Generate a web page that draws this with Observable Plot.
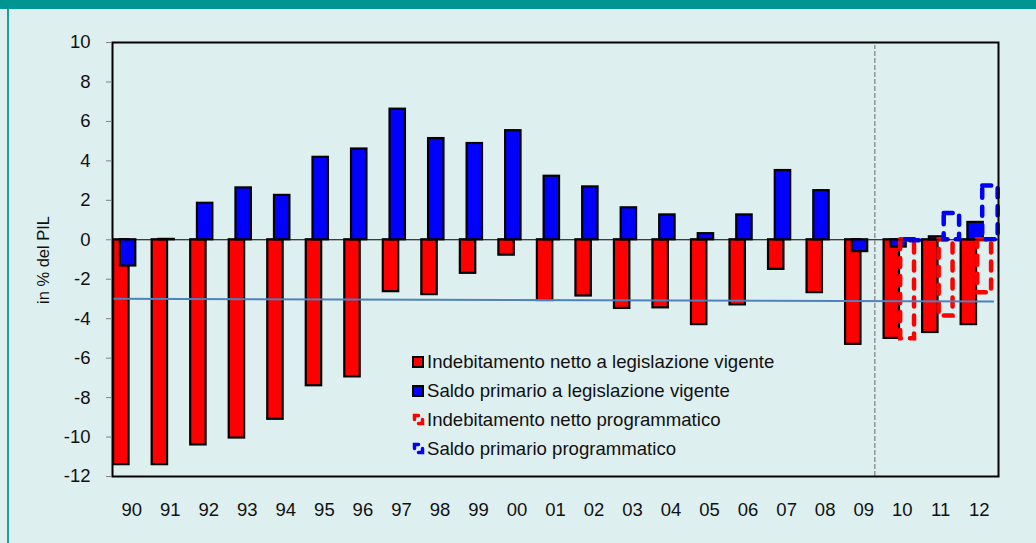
<!DOCTYPE html>
<html><head><meta charset="utf-8">
<script src="https://cdn.jsdelivr.net/npm/d3@7"></script>
<script src="https://cdn.jsdelivr.net/npm/@observablehq/plot@0.6"></script>
<style>
html,body{margin:0;padding:0;background:#DEEFEF;}
#wrap{position:relative;width:1036px;height:543px;overflow:hidden;background:#DEEFEF;font-family:"Liberation Sans",Arial,sans-serif;}
#topbar{position:absolute;left:0;top:0;width:1036px;height:9px;background:#009590;z-index:2;}
#leftbar{position:absolute;left:7px;top:9px;width:2px;height:534px;background:#1E9F99;z-index:2;}
#chart{position:absolute;left:0;top:0;}
#ytitle{position:absolute;left:43px;top:260px;transform:translate(-50%,-50%) rotate(-90deg);font-size:16.5px;color:#111;white-space:nowrap;}
#legend{position:absolute;left:412px;top:347px;font-size:18.6px;color:#111;}
.row{display:flex;align-items:center;height:29px;white-space:nowrap;}
.sw{width:8px;height:8px;border:2px solid #000;margin-right:3px;flex:none;}
.sv{margin-right:2px;flex:none;}
</style></head>
<body>
<div id="wrap">
  <div id="topbar"></div>
  <div id="leftbar"></div>
  <div id="chart"></div>
  <div id="ytitle">in % del PIL</div>
  <div id="legend"></div>
</div>
<script>
// ---- data ----
const years = [1990,1991,1992,1993,1994,1995,1996,1997,1998,1999,2000,2001,2002,2003,2004,2005,2006,2007,2008,2009,2010,2011,2012];
const tickLabels = ["90","91","92","93","94","95","96","97","98","99","00","01","02","03","04","05","06","07","08","09","10","11","12"];
const indebitamentoVigente = [-11.4,-11.4,-10.4,-10.05,-9.1,-7.4,-6.95,-2.63,-2.78,-1.7,-0.78,-3.08,-2.85,-3.48,-3.45,-4.3,-3.3,-1.5,-2.68,-5.3,-5.0,-4.7,-4.3];
const saldoVigente = [-1.33,0.02,1.85,2.63,2.25,4.18,4.6,6.62,5.13,4.88,5.53,3.22,2.68,1.62,1.26,0.31,1.26,3.51,2.49,-0.6,-0.37,0.15,0.88];
const indebitamentoProgrammatico = [null,null,null,null,null,null,null,null,null,null,null,null,null,null,null,null,null,null,null,null,-5.02,-3.87,-2.68];
const saldoProgrammatico = [null,null,null,null,null,null,null,null,null,null,null,null,null,null,null,null,null,null,null,null,-0.05,1.33,2.72];
const seriesNames = ["Indebitamento netto a legislazione vigente","Saldo primario a legislazione vigente","Indebitamento netto programmatico","Saldo primario programmatico"];
const yTicks = [10,8,6,4,2,0,-2,-4,-6,-8,-10,-12];
const limitLine = [{year:1989.5, value:-2.99},{year:2012.38, value:-3.13}];
const forecastDivider = [2009.29];

// ---- build table ----
const seriesValues = [indebitamentoVigente, saldoVigente, indebitamentoProgrammatico, saldoProgrammatico];
const rows = [];
seriesValues.forEach((vals, k) => vals.forEach((v, i) => { if (v != null) rows.push({year: years[i], value: v, k, series: seriesNames[k]}); }));

const offset = [-0.27, -0.095, 0.14, 0.29];
const bw = [0.40, 0.40, 0.36, 0.40];
const colors = ["#FF0000", "#0000FF", "#FF0000", "#0000FF"];
const solid = (k) => rows.filter(d => d.k === k);
const rectOpts = (k) => ({
  x1: d => d.year + offset[k] - bw[k]/2,
  x2: d => d.year + offset[k] + bw[k]/2,
  y1: 0, y2: "value"
});

const chart = Plot.plot({
  width: 1036, height: 543,
  marginLeft: 112, marginRight: 38, marginTop: 42, marginBottom: 67,
  style: {background: "transparent", fontFamily: "'Liberation Sans', Arial, sans-serif", fontSize: "18px", color: "#111"},
  x: {type: "linear", domain: [1989.5, 2012.5]},
  y: {domain: [-12, 10]},
  marks: [
    Plot.rectY(solid(0), {...rectOpts(0), fill: colors[0], stroke: "#000", strokeWidth: 2.2}),
    Plot.rectY(solid(1), {...rectOpts(1), fill: colors[1], stroke: "#000", strokeWidth: 2.2}),
    Plot.rectY(solid(2), {...rectOpts(2), fill: "none", stroke: colors[2], strokeWidth: 4.5, strokeDasharray: "9,9", strokeLinecap: "round"}),
    Plot.rectY(solid(3), {...rectOpts(3), fill: "none", stroke: colors[3], strokeWidth: 4.5, strokeDasharray: "9,9", strokeLinecap: "round"}),
    Plot.ruleY([0], {stroke: "#000", strokeWidth: 1.2}),
    Plot.link(limitLine.slice(0,1), {x1: d => d.year, y1: d => d.value, x2: () => limitLine[1].year, y2: () => limitLine[1].value, stroke: "#4F81BD", strokeWidth: 2}),
    Plot.ruleX(forecastDivider, {y1: -12, y2: 9.85, stroke: "#7F7F7F", strokeWidth: 1.2, strokeDasharray: "5,2"}),
    Plot.frame({stroke: "#000", strokeWidth: 2}),
    Plot.axisY({ticks: yTicks, tickFormat: d => String(d), tickSize: 6, tickPadding: 16, stroke: "#808080", fill: "#111", label: null, fontSize: 18.5}),
    Plot.axisX({ticks: years, tickFormat: d => tickLabels[years.indexOf(d)], tickSize: 0, tickPadding: 26, fill: "#111", label: null, fontSize: 18.5})
  ]
});
document.getElementById("chart").appendChild(chart);

// ---- legend ----
const legend = document.getElementById("legend");
seriesNames.forEach((name, k) => {
  const row = document.createElement("div");
  row.className = "row";
  if (k < 2) {
    row.innerHTML = `<span class="sw" style="background:${colors[k]}"></span><span>${name}</span>`;
  } else {
    row.innerHTML = `<svg class="sv" width="13" height="13"><rect x="2.5" y="2.5" width="8" height="8" fill="none" stroke="${colors[k]}" stroke-width="3.5" stroke-dasharray="8,8" stroke-dashoffset="4" stroke-linecap="round"/></svg><span>${name}</span>`;
  }
  legend.appendChild(row);
});
</script>
</body></html>
